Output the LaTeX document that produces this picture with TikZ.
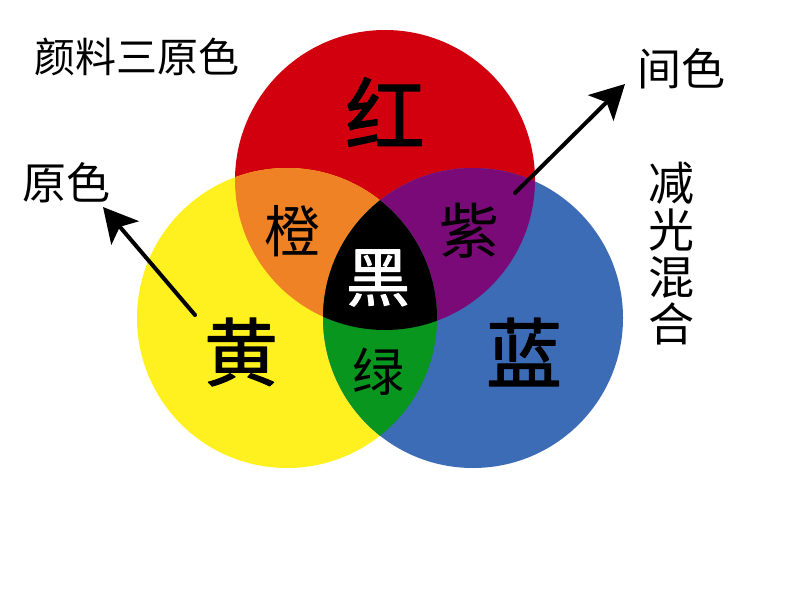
\documentclass[tikz,border=0pt]{standalone}
\usepackage{fontspec}
\newfontfamily\cjk{Noto Sans CJK SC}
\newfontfamily\cjkcu[FakeBold=1.5]{Noto Sans CJK SC}
\usetikzlibrary{arrows.meta}
\definecolor{hongse}{RGB}{210,0,14}
\definecolor{huangse}{RGB}{255,240,32}
\definecolor{lanse}{RGB}{60,108,182}
\definecolor{chengse}{RGB}{238,130,36}
\definecolor{zise}{RGB}{122,10,120}
\definecolor{lvse}{RGB}{8,150,30}
\begin{document}
\begin{tikzpicture}[x=1pt, y=-1pt, line cap=round, line join=round,
	>={Stealth[length=34pt, width=36pt, inset=8pt]},
	zi/.style={inner sep=0pt, font=\cjk\fontsize{#1}{#1}\selectfont},
	dazi/.style={inner sep=0pt, font=\cjkcu\fontsize{#1}{#1}\selectfont},
	jiantou/.style={->, line width=4pt}]
	\useasboundingbox (0, 0) rectangle (794, 596);
	\fill[white] (0, 0) rectangle (794, 596);
	\def\rad{150}
	\path 
	(385, 180) coordinate (R)
	(287, 318) coordinate (Y)
	(473, 318) coordinate (B)
	(195, 315) coordinate (y0)
	(103, 207) coordinate (y1)
	(515, 193) coordinate (z0)
	(625, 84) coordinate (z1);
	% three primaries
	\foreach \c/\col in {R/hongse, Y/huangse, B/lanse} {
		\fill[\col] (\c) circle (\rad);
	}
	% two-colour overlaps
	\foreach \a/\b/\col in {R/Y/chengse, R/B/zise, Y/B/lvse} {
		\begin{scope}
			\clip (\a) circle (\rad);
			\fill[\col] (\b) circle (\rad);
		\end{scope}
	}
	\begin{scope}
		\clip (R) circle (\rad);
		\clip (Y) circle (\rad);
		\fill[black] (B) circle (\rad);
	\end{scope}
	% labels
	\node[dazi=80] (hong) at (385, 112) {红};
	\node[dazi=74] (huang) at (241, 352) {黄};
	\node[dazi=76] (lan) at (524, 352) {蓝};
	\node[zi=56] (cheng) at (292, 231) {橙};
	\node[zi=60] (zi) at (469, 231) {紫};
	\node[zi=52] (lv) at (378, 372) {绿};
	\node[dazi=64, text=white] (hei) at (378, 278) {黑};
	\node[zi=41] (title) at (137, 57) {颜料三原色};
	\node[zi=44] (yuanse) at (66, 183) {原色};
	\node[zi=44] (jianse) at (681, 69) {间色};
	\node[zi=46, align=center, font=\cjk\fontsize{46}{47}\selectfont] (jianguang) at (671, 254) {减\\光\\混\\合};
	\draw[jiantou] (y0) -- (y1);
	\draw[jiantou] (z0) -- (z1);
\end{tikzpicture}
\end{document}
